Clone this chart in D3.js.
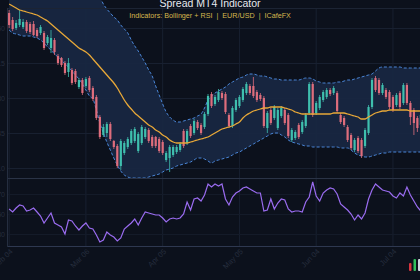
<!DOCTYPE html>
<html><head><meta charset="utf-8">
<script src="https://cdn.jsdelivr.net/npm/d3@7"></script>
<style>html,body{margin:0;padding:0;background:#0c111c;overflow:hidden}</style>
</head><body><svg id="c" width="420" height="280"></svg>
<script>
const openP = [1.0665,1.0658,1.0650,1.0653,1.0651,1.0656,1.0654,1.0654,1.0648,1.0645,
1.0645,1.0635,1.0630,1.0638,1.0622,1.0620,1.0615,1.0606,1.0608,1.0607,
1.0591,1.0598,1.0592,1.0600,1.0590,1.0581,1.0561,1.0543,1.0545,1.0554,
1.0537,1.0532,1.0512,1.0525,1.0531,1.0535,1.0537,1.0527,1.0535,1.0541,
1.0548,1.0541,1.0541,1.0539,1.0536,1.0518,1.0520,1.0523,1.0526,1.0528,
1.0547,1.0535,1.0552,1.0545,1.0556,1.0553,1.0551,1.0564,1.0584,1.0574,
1.0578,1.0585,1.0584,1.0563,1.0552,1.0568,1.0572,1.0578,1.0585,1.0592,
1.0592,1.0586,1.0583,1.0580,1.0550,1.0568,1.0560,1.0550,1.0562,1.0568,
1.0563,1.0538,1.0540,1.0553,1.0546,1.0552,1.0565,1.0594,1.0565,1.0570,
1.0578,1.0581,1.0588,1.0585,1.0585,1.0563,1.0560,1.0551,1.0543,1.0528,
1.0540,1.0538,1.0532,1.0545,1.0571,1.0600,1.0598,1.0585,1.0588,1.0586,
1.0581,1.0573,1.0585,1.0575,1.0593,1.0575,1.0568,1.0560,1.0553,1.0563];
const closeP = [1.0653,1.0649,1.0655,1.0659,1.0656,1.0647,1.0646,1.0643,1.0642,1.0651,
1.0630,1.0641,1.0640,1.0626,1.0615,1.0613,1.0605,1.0615,1.0595,1.0596,
1.0598,1.0585,1.0599,1.0588,1.0579,1.0560,1.0541,1.0551,1.0554,1.0539,
1.0531,1.0512,1.0537,1.0535,1.0539,1.0547,1.0549,1.0544,1.0551,1.0549,
1.0537,1.0532,1.0532,1.0527,1.0525,1.0525,1.0531,1.0531,1.0531,1.0534,
1.0532,1.0547,1.0542,1.0557,1.0550,1.0545,1.0564,1.0582,1.0572,1.0581,
1.0586,1.0580,1.0566,1.0552,1.0570,1.0578,1.0581,1.0589,1.0594,1.0585,
1.0582,1.0578,1.0579,1.0552,1.0565,1.0555,1.0571,1.0568,1.0570,1.0555,
1.0542,1.0548,1.0546,1.0541,1.0556,1.0563,1.0594,1.0563,1.0575,1.0581,
1.0586,1.0588,1.0584,1.0590,1.0567,1.0556,1.0553,1.0538,1.0530,1.0538,
1.0527,1.0522,1.0548,1.0571,1.0598,1.0588,1.0585,1.0593,1.0581,1.0571,
1.0568,1.0583,1.0571,1.0593,1.0575,1.0561,1.0555,1.0550,1.0563,1.0556];
const highP = [1.0668,1.0661,1.0658,1.0668,1.0659,1.0658,1.0656,1.0657,1.0650,1.0653,
1.0647,1.0643,1.0648,1.0640,1.0624,1.0621,1.0617,1.0620,1.0610,1.0609,
1.0600,1.0600,1.0601,1.0602,1.0592,1.0583,1.0563,1.0554,1.0556,1.0556,
1.0538,1.0534,1.0539,1.0537,1.0541,1.0549,1.0551,1.0546,1.0553,1.0551,
1.0550,1.0543,1.0542,1.0541,1.0538,1.0527,1.0533,1.0533,1.0533,1.0536,
1.0549,1.0549,1.0554,1.0559,1.0558,1.0555,1.0566,1.0584,1.0586,1.0583,
1.0589,1.0587,1.0586,1.0565,1.0572,1.0580,1.0583,1.0591,1.0596,1.0594,
1.0601,1.0588,1.0585,1.0582,1.0567,1.0570,1.0573,1.0570,1.0572,1.0570,
1.0565,1.0550,1.0548,1.0555,1.0558,1.0565,1.0596,1.0596,1.0577,1.0583,
1.0588,1.0590,1.0590,1.0592,1.0587,1.0565,1.0562,1.0553,1.0545,1.0540,
1.0542,1.0540,1.0550,1.0573,1.0600,1.0602,1.0600,1.0595,1.0590,1.0588,
1.0583,1.0585,1.0587,1.0595,1.0595,1.0577,1.0570,1.0562,1.0565,1.0565];
const lowP = [1.0650,1.0647,1.0648,1.0651,1.0649,1.0645,1.0644,1.0642,1.0640,1.0643,
1.0628,1.0633,1.0625,1.0623,1.0613,1.0611,1.0603,1.0601,1.0593,1.0594,
1.0589,1.0583,1.0590,1.0586,1.0577,1.0558,1.0539,1.0541,1.0541,1.0537,
1.0529,1.0510,1.0508,1.0523,1.0529,1.0533,1.0535,1.0525,1.0533,1.0539,
1.0535,1.0530,1.0530,1.0525,1.0523,1.0516,1.0506,1.0521,1.0524,1.0526,
1.0530,1.0533,1.0540,1.0543,1.0548,1.0543,1.0549,1.0562,1.0570,1.0572,
1.0576,1.0578,1.0564,1.0550,1.0550,1.0566,1.0570,1.0576,1.0583,1.0583,
1.0580,1.0576,1.0577,1.0550,1.0545,1.0553,1.0558,1.0548,1.0560,1.0553,
1.0540,1.0536,1.0538,1.0539,1.0544,1.0550,1.0563,1.0561,1.0563,1.0568,
1.0576,1.0579,1.0582,1.0583,1.0565,1.0554,1.0551,1.0536,1.0528,1.0526,
1.0525,1.0520,1.0530,1.0543,1.0569,1.0586,1.0583,1.0583,1.0579,1.0569,
1.0566,1.0571,1.0569,1.0573,1.0573,1.0553,1.0543,1.0546,1.0551,1.0554];
const bbUpper = [1.0700,1.0700,1.0699,1.0698,1.0698,1.0697,1.0697,1.0697,1.0697,1.0696,
1.0696,1.0696,1.0695,1.0695,1.0694,1.0694,1.0693,1.0693,1.0692,1.0692,
1.0691,1.0690,1.0689,1.0688,1.0687,1.0685,1.0681,1.0674,1.0669,1.0665,
1.0661,1.0658,1.0653,1.0649,1.0645,1.0638,1.0632,1.0627,1.0621,1.0615,
1.0608,1.0602,1.0592,1.0583,1.0574,1.0566,1.0561,1.0558,1.0556,1.0556,
1.0557,1.0558,1.0559,1.0560,1.0562,1.0564,1.0570,1.0578,1.0582,1.0585,
1.0587,1.0589,1.0591,1.0594,1.0596,1.0598,1.0600,1.0601,1.0603,1.0604,
1.0604,1.0603,1.0602,1.0602,1.0601,1.0600,1.0599,1.0599,1.0598,1.0598,
1.0598,1.0598,1.0598,1.0598,1.0599,1.0600,1.0600,1.0599,1.0597,1.0596,
1.0595,1.0595,1.0595,1.0595,1.0596,1.0596,1.0597,1.0598,1.0598,1.0599,
1.0600,1.0601,1.0602,1.0603,1.0604,1.0607,1.0610,1.0611,1.0611,1.0611,
1.0611,1.0611,1.0611,1.0610,1.0610,1.0610,1.0610,1.0610,1.0610,1.0610];
const bbMiddle = [1.0674,1.0672,1.0670,1.0668,1.0667,1.0666,1.0665,1.0664,1.0663,1.0661,
1.0659,1.0657,1.0654,1.0651,1.0648,1.0645,1.0642,1.0639,1.0636,1.0633,
1.0630,1.0628,1.0626,1.0623,1.0619,1.0615,1.0611,1.0607,1.0603,1.0599,
1.0595,1.0590,1.0584,1.0578,1.0573,1.0569,1.0565,1.0562,1.0559,1.0556,
1.0553,1.0551,1.0548,1.0546,1.0543,1.0541,1.0538,1.0536,1.0535,1.0535,
1.0535,1.0535,1.0536,1.0537,1.0538,1.0539,1.0540,1.0541,1.0543,1.0545,
1.0547,1.0549,1.0550,1.0551,1.0552,1.0554,1.0556,1.0560,1.0563,1.0565,
1.0567,1.0568,1.0569,1.0570,1.0570,1.0571,1.0571,1.0571,1.0571,1.0570,
1.0569,1.0568,1.0566,1.0565,1.0564,1.0564,1.0564,1.0564,1.0564,1.0564,
1.0564,1.0564,1.0564,1.0565,1.0565,1.0565,1.0565,1.0564,1.0563,1.0562,
1.0561,1.0559,1.0559,1.0561,1.0563,1.0565,1.0566,1.0567,1.0567,1.0568,
1.0568,1.0568,1.0568,1.0568,1.0568,1.0567,1.0567,1.0567,1.0567,1.0567];
const bbLower = [1.0648,1.0645,1.0644,1.0643,1.0642,1.0642,1.0642,1.0641,1.0640,1.0638,
1.0635,1.0631,1.0628,1.0624,1.0621,1.0618,1.0614,1.0611,1.0607,1.0603,
1.0599,1.0594,1.0588,1.0582,1.0579,1.0568,1.0555,1.0545,1.0536,1.0528,
1.0520,1.0513,1.0507,1.0503,1.0501,1.0500,1.0500,1.0500,1.0500,1.0500,
1.0501,1.0502,1.0503,1.0504,1.0506,1.0508,1.0509,1.0510,1.0512,1.0513,
1.0514,1.0515,1.0516,1.0518,1.0520,1.0520,1.0519,1.0517,1.0515,1.0517,
1.0518,1.0519,1.0520,1.0521,1.0523,1.0525,1.0526,1.0528,1.0530,1.0532,
1.0534,1.0536,1.0538,1.0540,1.0542,1.0544,1.0545,1.0545,1.0543,1.0541,
1.0538,1.0536,1.0535,1.0534,1.0533,1.0532,1.0532,1.0531,1.0531,1.0531,
1.0531,1.0531,1.0531,1.0531,1.0531,1.0530,1.0530,1.0530,1.0528,1.0525,
1.0523,1.0522,1.0521,1.0521,1.0522,1.0523,1.0524,1.0525,1.0525,1.0526,
1.0526,1.0526,1.0526,1.0526,1.0526,1.0526,1.0526,1.0526,1.0526,1.0526];
const rsiValues = [55,52,56,59,58,53,54,56,52,48,
41,46,51,41,39,37,30,44,43,38,
34,38,41,36,35,29,22,24,32,29,
27,23,26,35,38,41,45,39,46,52,
51,50,49,49,46,42,45,46,45,46,
50,62,54,65,66,63,69,80,77,80,
78,80,65,59,67,71,73,76,77,75,
73,71,71,53,54,65,55,61,65,64,
55,52,53,53,52,62,67,82,68,63,
71,74,76,75,70,60,57,54,50,44,
49,45,51,65,74,80,77,74,73,72,
68,66,71,68,77,69,63,57,53,51];
const xTickIndex = [0, 22, 44, 66, 88, 110];
const xTickLabels = ["Feb 04", "Mar 06", "Apr 05", "May 05", "Jun 04", "Jul 04"];
const priceTicks = [1.0510, 1.0545, 1.0580, 1.0615, 1.0650];
const rsiTicks = [30, 50, 70];
const titleText = "Spread MT4 Indicator";
const subtitleText = "Indicators: Bollinger + RSI  |  EUR/USD  |  ICafeFX";

const svg = d3.select("#c");
const W = 420, H = 280;
svg.append("rect").attr("width", W).attr("height", H).attr("fill", "#0c111c");

const idx = d3.range(openP.length);
const x = d3.scaleBand().domain(idx).range([6.75, 6.75 + 3.5 * idx.length]).padding(0.37);
const cx = i => x(i) + x.bandwidth() / 2;
const y = d3.scaleLinear().domain([1.0500, 1.0670]).range([178, 8]);
const yR = d3.scaleLinear().domain([18, 86]).range([246, 178]);

const grid = "#182030";
// vertical grid
svg.append("g").selectAll("line").data(xTickIndex).join("line")
  .attr("x1", d => cx(d)).attr("x2", d => cx(d)).attr("y1", 8).attr("y2", 246)
  .attr("stroke", grid).attr("stroke-width", 1);
// horizontal grid price
svg.append("g").selectAll("line").data(priceTicks).join("line")
  .attr("x1", 7).attr("x2", W).attr("y1", d => Math.round(y(d)) + 0.5).attr("y2", d => Math.round(y(d)) + 0.5)
  .attr("stroke", grid);
svg.append("g").selectAll("line").data(rsiTicks).join("line")
  .attr("x1", 7).attr("x2", W).attr("y1", d => Math.round(yR(d)) + 0.5).attr("y2", d => Math.round(yR(d)) + 0.5)
  .attr("stroke", "#141b29");

// Bollinger band
const area = d3.area().x(cx).y0(i => y(bbLower[i])).y1(i => y(bbUpper[i])).curve(d3.curveMonotoneX);
svg.append("path").datum(idx).attr("d", area).attr("fill", "#182741").attr("opacity", 0.95);
const lineOf = arr => d3.line().x(cx).y(i => y(arr[i])).curve(d3.curveMonotoneX);
[bbUpper, bbLower].forEach(arr => {
  svg.append("path").datum(idx).attr("d", lineOf(arr)).attr("fill", "none")
    .attr("stroke", "#4a86d8").attr("stroke-width", 1).attr("stroke-dasharray", "3,2");
});

// panel borders
svg.append("line").attr("x1", 7).attr("x2", W).attr("y1", 8.5).attr("y2", 8.5).attr("stroke", "#1c2434");
svg.append("line").attr("x1", 7).attr("x2", W).attr("y1", 178.5).attr("y2", 178.5).attr("stroke", "#2a3346");
svg.append("line").attr("x1", 7).attr("x2", W).attr("y1", 246.5).attr("y2", 246.5).attr("stroke", "#2e3850");
svg.append("line").attr("x1", 7.5).attr("x2", 7.5).attr("y1", 8).attr("y2", 247).attr("stroke", "#252e40");

// candles
const up = "#3fbfae", down = "#de6d7c";
const cg = svg.append("g");
cg.selectAll("line").data(idx).join("line")
  .attr("x1", cx).attr("x2", cx).attr("y1", i => y(highP[i])).attr("y2", i => y(lowP[i]))
  .attr("stroke", i => closeP[i] >= openP[i] ? up : down).attr("stroke-width", 0.8);
cg.selectAll("rect").data(idx).join("rect")
  .attr("x", i => x(i)).attr("width", x.bandwidth())
  .attr("y", i => y(Math.max(openP[i], closeP[i])))
  .attr("height", i => Math.max(1, Math.abs(y(openP[i]) - y(closeP[i]))))
  .attr("fill", i => closeP[i] >= openP[i] ? up : down);

// middle line
svg.append("path").datum(idx).attr("d", lineOf(bbMiddle)).attr("fill", "none")
  .attr("stroke", "#e8a838").attr("stroke-width", 1.3);

// RSI
svg.append("path").datum(idx).attr("d", d3.line().x(cx).y(i => yR(rsiValues[i])))
  .attr("fill", "none").attr("stroke", "#9a6cf0").attr("stroke-width", 1.2);

// axis labels (faint)
const faint = "#262e3e";
svg.append("g").selectAll("text").data(priceTicks).join("text")
  .attr("x", 5).attr("y", d => y(d) + 2.5).attr("text-anchor", "end")
  .attr("font-family", "Liberation Sans, Arial, sans-serif").attr("font-size", 7).attr("fill", faint)
  .text(d => d.toFixed(4));
svg.append("g").selectAll("text").data(rsiTicks).join("text")
  .attr("x", 5).attr("y", d => yR(d) + 2.5).attr("text-anchor", "end")
  .attr("font-family", "Liberation Sans, Arial, sans-serif").attr("font-size", 7).attr("fill", faint)
  .text(d => d);
svg.append("g").selectAll("text").data(xTickIndex).join("text")
  .attr("transform", d => `translate(${cx(d) + 4},${252}) rotate(-45)`)
  .attr("text-anchor", "end")
  .attr("font-family", "Liberation Sans, Arial, sans-serif").attr("font-size", 7.5).attr("fill", faint)
  .text((d, k) => xTickLabels[k]);

// title
svg.append("text").attr("x", 210).attr("y", 6.5).attr("text-anchor", "middle")
  .attr("font-family", "Liberation Sans, Arial, sans-serif").attr("font-size", 10.5).attr("fill", "#e6e9ef")
  .text(titleText);
svg.append("text").attr("x", 210).attr("y", 18).attr("text-anchor", "middle")
  .attr("font-family", "Liberation Sans, Arial, sans-serif").attr("font-size", 7.2).attr("fill", "#d6b84e")
  .attr("xml:space", "preserve").style("white-space", "pre")
  .text(subtitleText);

// logo bottom right
const logoBars = [{c: "#d8343e", h: 8}, {c: "#2fbf5a", h: 12}, {c: "#cfd6df", h: 12}];
svg.append("g").selectAll("rect").data(logoBars).join("rect")
  .attr("x", (d, k) => 409 + k * 4.5).attr("y", d => 271 - d.h).attr("width", 2.5).attr("height", d => d.h)
  .attr("rx", 1).attr("fill", d => d.c);
</script></body></html>
